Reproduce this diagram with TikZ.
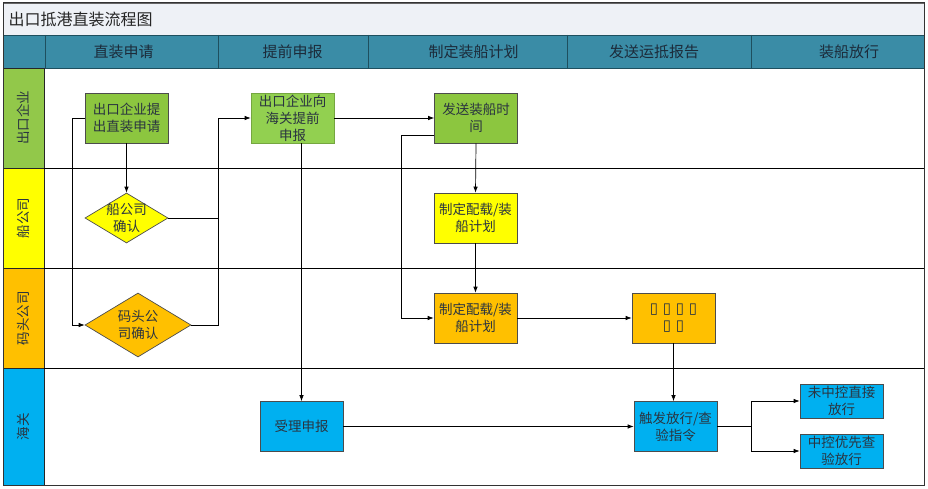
\documentclass[tikz,border=0pt]{standalone}
\usepackage{fontspec}
\setmainfont{Noto Sans CJK SC}
\newfontfamily\boxfont{DejaVu Sans}
\usetikzlibrary{shapes.geometric,arrows.meta}

\definecolor{titlebg}{HTML}{EEF1F6}
\definecolor{headbg}{HTML}{3A8CA6}
\definecolor{headline}{HTML}{1E4F5E}
\definecolor{headtext}{HTML}{1C2B3A}
\definecolor{nodetext}{HTML}{2A3440}
\definecolor{lanegreen}{HTML}{92C84A}
\definecolor{stepgreen}{HTML}{8CC63F}
\definecolor{lightgreen}{HTML}{92D050}
\definecolor{shipyellow}{HTML}{FFFF00}
\definecolor{dockorange}{HTML}{FFC000}
\definecolor{customsblue}{HTML}{00B0F0}

\tikzset{
  lanecell/.style={draw=black!85,line width=0.8pt},
  lanename/.style={rotate=90,text=nodetext,font=\fontsize{13.5}{15}\selectfont},
  headname/.style={text=headtext,font=\fontsize{15}{17}\selectfont},
  stepbox/.style={rectangle,draw=black!70,line width=0.7pt,minimum width=83pt,minimum height=50pt,
    inner sep=1pt,align=center,text=nodetext,font=\fontsize{13.5}{17}\selectfont},
  smallbox/.style={stepbox,minimum height=34pt},
  decide/.style={diamond,draw=black!70,line width=0.7pt,inner sep=0pt},
  decidetext/.style={align=center,text=nodetext,font=\fontsize{13.5}{17}\selectfont},
  flow/.style={->,line width=0.7pt}
}

\begin{document}
\begin{tikzpicture}[x=1pt,y=-1pt,>={Latex[length=6pt,width=4.5pt]}]

	\useasboundingbox (0,0) rectangle (928,489);

	% title and header row
	\draw[fill=titlebg,draw=black!60,line width=0.8pt] (3,3) rectangle (924,35);
	\node (title) at (5,19) [anchor=west,font=\fontsize{16}{18}\selectfont,text=black!85] {出口抵港直装流程图};

	\draw[fill=headbg,draw=headline,line width=0.8pt] (3,35) rectangle (924,68);
	\foreach \xd in {45,218,368,567,751}
		\draw[headline,line width=0.8pt] (\xd,35) -- (\xd,68);

	\node[headname] (h1) at (123.5,52) {直装申请};
	\node[headname] (h2) at (292.5,52) {提前申报};
	\node[headname] (h3) at (473.5,52) {制定装船计划};
	\node[headname] (h4) at (654,52) {发送运抵报告};
	\node[headname] (h5) at (849,52) {装船放行};

	% swim lanes
	\draw[lanecell,fill=lanegreen] (3,68) rectangle (44,168);
	\draw[lanecell,fill=shipyellow] (3,168) rectangle (44,268);
	\draw[lanecell,fill=dockorange] (3,268) rectangle (44,368);
	\draw[lanecell,fill=customsblue] (3,368) rectangle (44,485);

	\node[lanename] (l1) at (23.5,118) {出口企业};
	\node[lanename] (l2) at (23.5,218) {船公司};
	\node[lanename] (l3) at (23.5,318) {码头公司};
	\node[lanename] (l4) at (23.5,426.5) {海关};

	\draw[line width=0.8pt] (44,168) -- (924,168);
	\draw[line width=0.8pt] (44,268) -- (924,268);
	\draw[line width=0.8pt] (44,368) -- (924,368);
	\draw[draw=black!80,line width=1pt] (3,3) rectangle (924,485);

	% steps
	\node[stepbox,fill=stepgreen] (apply) at (126.5,118) {出口企业提\\出直装申请};
	\node[stepbox,fill=lightgreen,draw=lightgreen!80!black] (predecl) at (292.5,118) {出口企业向\\海关提前\\申报};
	\node[stepbox,fill=stepgreen] (sendtime) at (476,118) {发送装船时\\间};

	\node[decide,fill=shipyellow,minimum width=83pt,minimum height=50pt,
	      label={[decidetext]center:{船公司\\确认}}] (ship) at (126.5,218) {};
	\node[decide,fill=dockorange,minimum width=106pt,minimum height=64pt,
	      label={[decidetext]center:{码头公\\司确认}}] (dock) at (138,325) {};

	\node[stepbox,fill=shipyellow] (shipplan) at (475.5,218) {制定配载/装\\船计划};
	\node[stepbox,fill=dockorange] (dockplan) at (475.5,318) {制定配载/装\\船计划};
	\node[stepbox,fill=dockorange,font=\boxfont\fontsize{15}{17}\selectfont] (report) at (673.5,318) {▯ ▯ ▯ ▯\\▯ ▯};

	\node[stepbox,fill=customsblue] (accept) at (301.5,426.5) {受理申报};
	\node[stepbox,fill=customsblue] (release) at (675.5,426.5) {触发放行/查\\验指令};
	\node[smallbox,fill=customsblue] (direct) at (841.5,401) {未中控直接\\放行};
	\node[smallbox,fill=customsblue] (inspect) at (841.5,451) {中控优先查\\验放行};

	% connectors
	\coordinate (join) at (218,118);

	\draw[flow] (apply.south) -- (ship.north);
	\draw[flow] (apply.west) -- ++(-12,0) |- (dock.west);
	\draw[line width=0.7pt] (ship.east) -- (ship.east -| join);
	\draw[flow] (dock.east) -| (join) -- (predecl.west);
	\draw[flow] (predecl.south -| accept.north) -- (accept.north);
	\draw[flow] (predecl.east) -- (sendtime.west);

	\draw[flow] ([yshift=-17pt]sendtime.west) -- ++(-33,0) |- (dockplan.west);
	\draw[flow] (sendtime.south) -- (shipplan.north);
	\draw[flow] (shipplan.south) -- (dockplan.north);
	\draw[flow] (dockplan.east) -- (report.west);
	\draw[flow] (report.south) -- (report.south |- release.north);

	\draw[flow] (accept.east) -- (release.west);
	\draw[flow] (release.east) -- ++(34,0) coordinate (fork) |- (direct.west);
	\draw[flow] (fork) |- (inspect.west);

\end{tikzpicture}
\end{document}
